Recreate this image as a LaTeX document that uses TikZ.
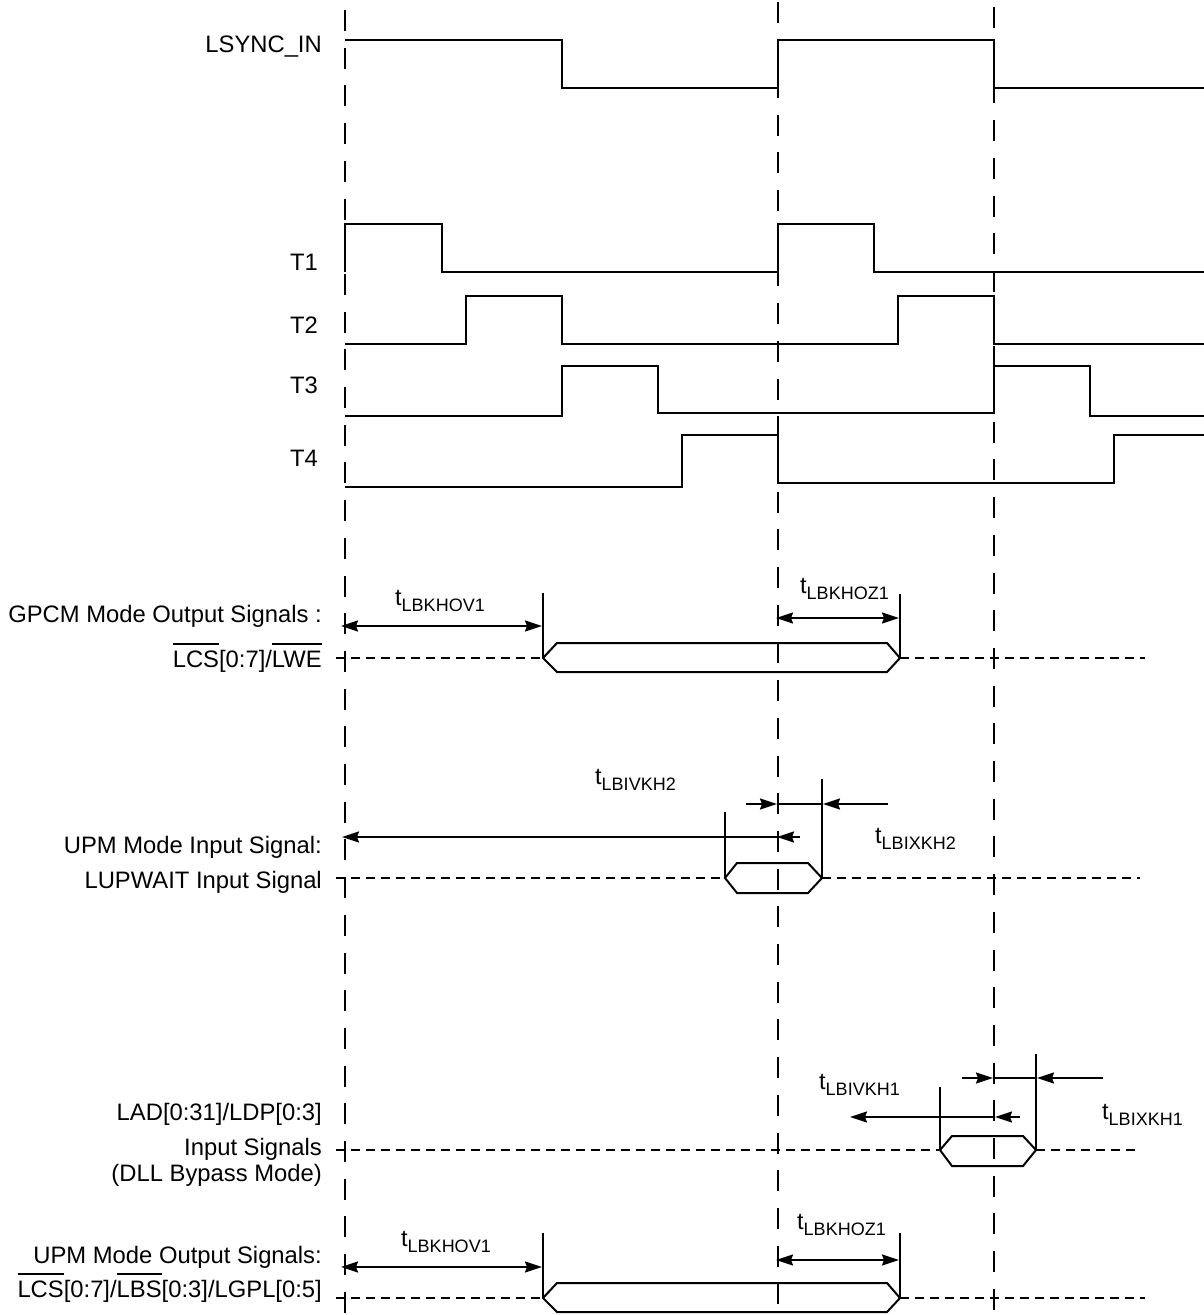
\documentclass[tikz,border=0pt]{standalone}
\usepackage{fontspec}
\setmainfont{Liberation Sans}
\usetikzlibrary{arrows.meta}
\newcommand\ovl[1]{\setbox0\hbox{#1}\rlap{\rule[22.5pt]{\wd0}{1.6pt}}#1}
\newcommand\tsub[1]{t\raisebox{-6.5pt}{\fontsize{18}{20}\selectfont #1}}
\begin{document}
\begin{tikzpicture}[x=1pt,y=-1pt,
  lbl/.style={anchor=base east, inner sep=0pt, font=\fontsize{23.8}{28}\selectfont},
  tlbl/.style={anchor=base west, inner sep=0pt, font=\fontsize{23.5}{28}\selectfont},
  wave/.style={line width=2.2pt, line join=miter},
  vdash/.style={line width=2pt, dash pattern=on 21pt off 16.7pt},
  hdash/.style={line width=1.8pt, dash pattern=on 9pt off 6pt},
  bus/.style={line width=2pt, line join=miter},
  tickline/.style={line width=2pt},
  arr/.style={line width=2pt, -{Stealth[length=17pt,width=11pt,inset=2pt]}},
  darr/.style={line width=2pt, {Stealth[length=17pt,width=11pt,inset=2pt]}-{Stealth[length=17pt,width=11pt,inset=2pt]}},
]
\useasboundingbox (0,0) rectangle (1204,1315);

% vertical dashed reference lines
\draw[vdash, dash phase=27.7pt] (345,0) -- (345,1315);
\draw[vdash, dash phase=36.2pt] (778,0) -- (778,1315);
\draw[vdash, dash phase=30.7pt] (994,0) -- (994,1315);

% signal labels
\node[lbl] (lsync) at (322,52) {LSYNC\_IN};
\node[lbl] (t1) at (318,270) {T1};
\node[lbl] (t2) at (318,333) {T2};
\node[lbl] (t3) at (318,393) {T3};
\node[lbl] (t4) at (318,466) {T4};
\node[lbl] (gpcm) at (322,622) {GPCM Mode Output Signals :};
\node[lbl] (gpcmsig) at (322,667) {\ovl{LCS}[0:7]/\ovl{LWE}};
\node[lbl] (upmin) at (322,853) {UPM Mode Input Signal:};
\node[lbl] (lupwait) at (322,888) {LUPWAIT Input Signal};
\node[lbl] (lad1) at (322,1120) {LAD[0:31]/LDP[0:3]};
\node[lbl] (lad2) at (322,1155) {Input Signals};
\node[lbl] (lad3) at (322,1181) {(DLL Bypass Mode)};
\node[lbl] (upmout) at (322,1263) {UPM Mode Output Signals:};
\node[lbl] (upmsig) at (322,1297) {\ovl{LCS}[0:7]/\ovl{LBS}[0:3]/LGPL[0:5]};

% waveforms
\draw[wave] (345,40) -- (562,40) -- (562,88) -- (778,88) -- (778,40) -- (994,40) -- (994,88) -- (1204,88);
\draw[wave] (345,272) -- (345,224) -- (442,224) -- (442,272) -- (778,272) -- (778,224) -- (874,224) -- (874,272) -- (1204,272);
\draw[wave] (345,344) -- (466,344) -- (466,296) -- (562,296) -- (562,344) -- (898,344) -- (898,296) -- (994,296) -- (994,344) -- (1204,344);
\draw[wave] (345,416) -- (562,416) -- (562,366) -- (658,366) -- (658,413) -- (994,413) -- (994,366) -- (1090,366) -- (1090,416) -- (1204,416);
\draw[wave] (345,487) -- (682,487) -- (682,435) -- (778,435) -- (778,483) -- (1114,483) -- (1114,435) -- (1204,435);

% GPCM output
\draw[hdash, dash phase=0pt] (336,658) -- (543,658);
\draw[hdash] (900,658) -- (1145,658);
\draw[bus] (543,658) -- (557,643) -- (887,643) -- (900,658) -- (887,672) -- (557,672) -- cycle;
\draw[tickline] (543,593) -- (543,658);
\draw[tickline] (900,594) -- (900,658);
\draw[darr] (341,626) -- (542,626);
\draw[darr] (776,618) -- (899,618);
\node[tlbl] (g1) at (395,605) {\tsub{LBKHOV1}};
\node[tlbl] (g2) at (800,593) {\tsub{LBKHOZ1}};

% UPM input
\draw[hdash] (336,878) -- (725,878);
\draw[hdash] (822,878) -- (1140,878);
\draw[bus] (725,878) -- (737,863) -- (808,863) -- (822,878) -- (808,893) -- (737,893) -- cycle;
\draw[tickline] (725,812) -- (725,878);
\draw[tickline] (822,779) -- (822,878);
\draw[arr] (746,804) -- (777,804);
\draw[line width=2pt] (777,804) -- (822,804);
\draw[arr] (888,804) -- (823,804);
\draw[arr] (800,837) -- (777,837);
\draw[arr] (777,837) -- (342,837);
\node[tlbl] (u1) at (595,784) {\tsub{LBIVKH2}};
\node[tlbl] (u2) at (875,843) {\tsub{LBIXKH2}};

% LAD input
\draw[hdash] (336,1150) -- (940,1150);
\draw[hdash] (1036,1150) -- (1135,1150);
\draw[bus] (940,1150) -- (952,1136) -- (1023,1136) -- (1036,1150) -- (1023,1166) -- (952,1166) -- cycle;
\draw[tickline] (940,1087) -- (940,1150);
\draw[tickline] (1036,1054) -- (1036,1150);
\draw[arr] (962,1078) -- (993,1078);
\draw[line width=2pt] (993,1078) -- (1036,1078);
\draw[arr] (1103,1078) -- (1037,1078);
\draw[arr] (1020,1117) -- (995,1117);
\draw[arr] (995,1117) -- (850,1117);
\node[tlbl] (l1) at (819,1089) {\tsub{LBIVKH1}};
\node[tlbl] (l2) at (1102,1119) {\tsub{LBIXKH1}};

% UPM output
\draw[hdash] (336,1298) -- (543,1298);
\draw[hdash] (900,1298) -- (1145,1298);
\draw[bus] (543,1298) -- (557,1283) -- (887,1283) -- (900,1298) -- (887,1312) -- (557,1312) -- cycle;
\draw[tickline] (543,1233) -- (543,1298);
\draw[tickline] (900,1233) -- (900,1298);
\draw[darr] (341,1267) -- (542,1267);
\draw[darr] (776,1260) -- (899,1260);
\node[tlbl] (b1) at (401,1246) {\tsub{LBKHOV1}};
\node[tlbl] (b2) at (797,1229) {\tsub{LBKHOZ1}};
\end{tikzpicture}
\end{document}
